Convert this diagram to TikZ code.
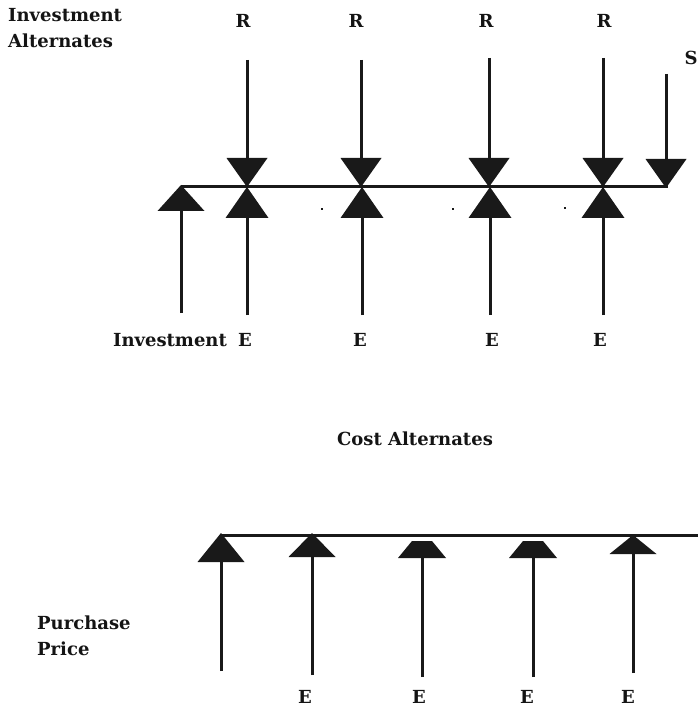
\documentclass[tikz,border=0pt]{standalone}
\usepackage{fontspec}
\setmainfont{DejaVu Serif}
\usetikzlibrary{arrows.meta}
\begin{document}
\begin{tikzpicture}[x=1pt,y=-1pt,
  lbl/.style={font=\bfseries\fontsize{18}{26}\selectfont,inner sep=0pt,text=black!92},
  shaft/.style={line width=3pt,draw=black!90},
  downarr/.style={shaft,-{Triangle[width=41pt,length=29pt,line width=0pt]}},
  uparr/.style={shaft,-{Triangle[width=43pt,length=31pt,line width=0pt]}},
  bigup/.style={shaft,-{Triangle[width=47pt,length=#1,line width=0pt]}},
  dotmark/.style={fill=black!90}
]
\useasboundingbox (0,0) rectangle (698,708);
% ---------- top part ----------
\node[lbl,anchor=west,align=left] (ialt) at (8,28) {Investment\\Alternates};
\foreach \i/\x/\lx/\top in {1/247/243/60,2/361/356/60,3/489/486/58,4/603/604/58}{
  \node[lbl] (R\i) at (\lx,21) {R};
  \coordinate (rs\i) at (\x,\top);
  \coordinate (rt\i) at (\x,187);
  \draw[downarr] (rs\i) -- (rt\i);
}
\node[lbl] (S) at (691,58) {S};
\coordinate (ss) at (666,74);
\coordinate (st) at (666,188);
\draw[downarr] (ss) -- (st);
% horizontal line
\coordinate (hl) at (181,187);
\coordinate (hr) at (668,187);
\draw[shaft] (hl) -- (hr);
% investment arrow
\coordinate (inb) at (181,313);
\coordinate (int) at (181,185);
\draw[bigup=26pt] (inb) -- (int);
\node[lbl] (inv) at (170,340) {Investment};
\foreach \i/\x/\lx in {1/247/245,2/362/360,3/490/492,4/603/600}{
  \coordinate (eb\i) at (\x,315);
  \coordinate (et\i) at (\x,187);
  \draw[uparr] (eb\i) -- (et\i);
  \node[lbl] (E\i) at (\lx,340) {E};
}
\foreach \x/\y in {322/209,453/209,565/208}{
  \fill[dotmark] (\x-1,\y-1) rectangle (\x+1,\y+1);
}
% ---------- middle ----------
\node[lbl] (cost) at (415,439) {Cost Alternates};
% ---------- bottom part ----------
\coordinate (bl) at (220,535);
\coordinate (br) at (698,535);
\draw[shaft] (bl) -- (br);
\coordinate (p1b) at (221,671); \coordinate (p1t) at (221,533);
\draw[bigup=29pt] (p1b) -- (p1t);
\coordinate (p2b) at (312,675); \coordinate (p2t) at (312,533);
\draw[bigup=24pt] (p2b) -- (p2t);
\coordinate (p5b) at (633,673); \coordinate (p5t) at (633,535);
\draw[bigup=19pt] (p5b) -- (p5t);
% flattened heads
\foreach \x in {422,533}{
  \fill[black!90] (\x-24,558) -- (\x-10,541) -- (\x+10,541) -- (\x+24,558) -- cycle;
}
\coordinate (p3b) at (422,677); \coordinate (p3t) at (422,557);
\draw[shaft] (p3b) -- (p3t);
\coordinate (p4b) at (533,677); \coordinate (p4t) at (533,557);
\draw[shaft] (p4b) -- (p4t);
\node[lbl,anchor=west,align=left] (pp) at (37,636) {Purchase\\Price};
\foreach \i/\lx in {1/305,2/419,3/527,4/628}{
  \node[lbl] (be\i) at (\lx,697) {E};
}
\end{tikzpicture}
\end{document}
